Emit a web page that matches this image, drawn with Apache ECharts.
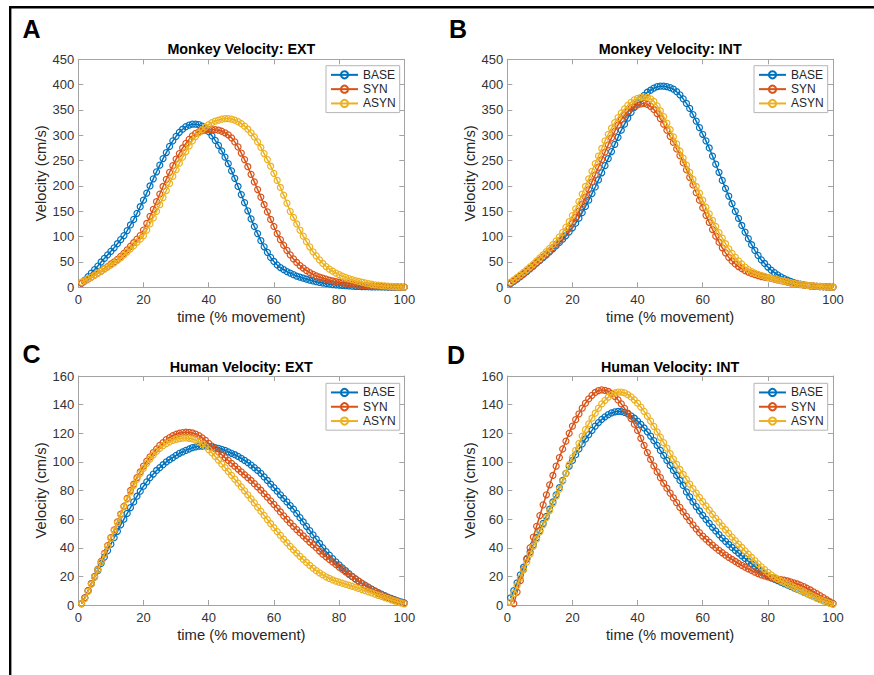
<!DOCTYPE html>
<html>
<head>
<meta charset="utf-8">
<title>Velocity profiles</title>
<script src="https://cdn.jsdelivr.net/npm/echarts@6/dist/echarts.min.js"></script>
<style>
  html, body { margin: 0; padding: 0; background: #fff; }
  #chart { width: 874px; height: 675px; }
</style>
</head>
<body>
<div id="chart"></div>
<script>
// Sample times, percent of movement
const timePct = [1,2,3,4,5,6,7,8,9,10,11,12,13,14,15,16,17,18,19,20,
  21,22,23,24,25,26,27,28,29,30,31,32,33,34,35,36,37,38,39,40,
  41,42,43,44,45,46,47,48,49,50,51,52,53,54,55,56,57,58,59,60,
  61,62,63,64,65,66,67,68,69,70,71,72,73,74,75,76,77,78,79,80,
  81,82,83,84,85,86,87,88,89,90,91,92,93,94,95,96,97,98,99,100];

const conditionNames = ['BASE', 'SYN', 'ASYN'];
const panelLetters = ['A', 'B', 'C', 'D'];
const panelTitles = ['Monkey Velocity: EXT', 'Monkey Velocity: INT', 'Human Velocity: EXT', 'Human Velocity: INT'];
const xTicks = [0, 20, 40, 60, 80, 100];
const monkeyYTicks = [0, 50, 100, 150, 200, 250, 300, 350, 400, 450];
const humanYTicks = [0, 20, 40, 60, 80, 100, 120, 140, 160];

// Monkey, extension (cm/s)
const monkeyExtBase = [8,14,21,28,35,42,50,57,64,71,
  78,86,94,102,112,123,134,146,159,172,
  186,200,214,228,241,254,266,278,289,298,
  306,312,317,320,322,322,321,318,313,307,
  299,290,280,269,257,244,230,215,199,183,
  167,151,135,120,106,92,80,69,59,51,
  44,39,35,31,28,25,22,20,18,16,
  14,12.5,11,9.5,8.5,7.5,6.5,5.5,4.8,4.2,
  3.6,3.1,2.7,2.3,2,1.7,1.5,1.3,1.1,1,
  0.9,0.8,0.7,0.6,0.5,0.4,0.3,0.3,0.2,0.2];
const monkeyExtSyn = [8,12,16,20,24,28,32,37,41,46,
  50,55,61,67,74,81,88,95,102,113,
  126,140,154,169,184,199,213,227,240,253,
  264,275,284,292,299,304,307,309,310,311,
  311,311,310,308,305,301,295,287,277,265,
  252,238,223,208,193,178,163,149,134,120,
  106,94,83,73,64,56,49,43,38,33,
  29,25.5,22.5,20,18,16,14,12.5,11,10,
  9,8,7,6,5.2,4.5,3.8,3.2,2.7,2.3,
  2,1.7,1.5,1.3,1.1,0.9,0.7,0.6,0.5,0.4];
const monkeyExtAsyn = [10,13,17,20,24,28,32,36,40,44,
  48,53,58,64,70,76,82,89,95,102,
  113,125,137,150,163,177,191,205,219,232,
  245,257,268,279,289,298,305,311,316,321,
  325,328,330,332,333,333,332,330,327,323,
  318,312,305,297,287,276,264,252,239,225,
  211,197,182,166,150,138,125,113,101,90,
  80,70,62,54,47,41,36,32,28,25,
  22,19.5,17,15,13,11.5,10,8.5,7.2,6,
  5,4.2,3.5,2.8,2.2,1.7,1.3,1,0.7,0.5];

// Monkey, internal rotation (cm/s)
const monkeyIntBase = [7,11.5,16,21,26,31,36.5,42,47.5,53,
  58.5,64,70,76,82,88.5,95,102,109.5,117.5,
  126.5,136.5,147.5,159.5,172,185,198,212,226,240,
  254,268,282,296,310,322,334,345,355,364,
  372,379,385,389,393,396,397,397,396,394,
  391,386,380,372,363,353,341,328,315,302,
  289,275,259,243,227,211,195,180,165,150,
  136,122,109,96,84,73,63,54,47,40,
  34,29,24.5,20.5,17,14,11.5,9.3,7.5,6,
  4.8,3.8,3,2.3,1.8,1.4,1.1,0.8,0.6,0.5];
const monkeyIntSyn = [8,12.5,17,22,27,32,37.5,43,48.5,54,
  60,66,72,78.5,85,92,99.5,107.5,116.5,126.5,
  138,150.5,164,178,193,208,222,237,252,267,
  281,295,308,320,331,340,347,353,357,360,
  362,363,361,357,351,343,333,322,310,298,
  286,273,260,246,232,217,202,187,172,157,
  142,128,114,101,89,78,68,59,52,46,
  41,37,33,30,27.5,25,23,21,20,19,
  17.5,16,14.5,13,11.5,10,8.8,7.6,6.5,5.5,
  4.6,3.8,3.1,2.5,2,1.6,1.2,0.9,0.7,0.5];
const monkeyIntAsyn = [10,14.5,19.5,24.5,29.5,35,40.5,46,52,58,
  64,70.5,77,84,91.5,99.5,108.5,118.5,129.5,141.5,
  155,169,184,199,214,229,244,259,274,289,
  302,314,325,335,344,352,359,365,370,373,
  375,376,375,372,367,358,348,337,324,311,
  297,283,269,255,241,227,213,199,186,172,
  158,145,132,120,108,97,86,76,67,59,
  52,46,40,35,31,28,25.5,23.5,21.5,19.5,
  18,16.5,15,13.5,12,10.5,9,7.8,6.7,5.7,
  4.8,4,3.3,2.7,2.2,1.7,1.3,1,0.7,0.5];

// Human, extension (cm/s)
const humanExtBase = [1,5,10,15,19.5,24,29,33.5,38,42.5,
  47,51.5,56,60,64,68,72,76,79.5,83,
  86,89,91.5,94,96,98,100,101.5,103,104.5,
  106,107,108,109,110,110.5,111,111,111,110.8,
  110.5,110,109.5,108.8,108,107,106,105,103.8,102.5,
  101,99.5,97.8,96,94,92,89.5,87,84.5,82,
  79.5,77,74.5,72,69.5,67,64,61,58,55,
  52,49,46,43,40,37.3,34.8,32.4,30.1,28,
  26,24,22,20,18.3,16.7,15.2,13.8,12.4,11.1,
  9.9,8.7,7.6,6.5,5.5,4.6,3.7,2.9,2.2,1.5];
const humanExtSyn = [1,5,10,15,20,25,30.5,36,41.5,47,
  52.5,58,63.5,69,74.5,80,84.5,89,93,97,
  100.5,103.5,106.5,109,111.5,113.5,115.5,117,118.3,119.3,
  120,120.5,120.7,120.6,120.2,119.4,118.3,116.8,115,113,
  111,109,107,105,103,101,99,97,95,93,
  91,89,87,84.8,82.5,80.2,77.8,75.3,72.8,70.3,
  67.7,65,62.3,59.8,57.3,55,52.7,50.5,48.3,46.2,
  44,42,40,37.7,35.5,33.7,31.9,30.1,28.3,26.5,
  24.8,23.1,21.4,19.8,18.2,16.7,15.1,13.6,12.2,10.8,
  9.5,8.3,7.2,6.2,5.2,4.3,3.4,2.6,1.9,1.2];
const humanExtAsyn = [1,4.5,9.5,14.5,19.5,24.5,30,35.5,41,46.5,
  52,57.5,63,68.5,74,79,83.5,88,92,95.5,
  99,102,104.8,107.3,109.5,111.3,112.8,114,115,115.8,
  116.3,116.6,116.7,116.5,116,115.2,114,112.5,110.7,108.6,
  106.3,103.8,101.2,98.6,96,93.3,90.6,87.9,85.2,82.5,
  79.8,77,74.2,71.3,68.4,65.5,62.6,59.7,56.8,54,
  51.3,48.6,46,43.5,41,38.6,36.3,34,31.8,29.7,
  27.7,25.8,24,22.4,21,19.7,18.6,17.6,16.7,15.9,
  15.2,14.5,13.8,13.1,12.4,11.6,10.8,10,9.2,8.4,
  7.6,6.8,6,5.2,4.4,3.6,2.8,2.1,1.4,0.8];

// Human, internal rotation (cm/s); SYN has no sample at 1%
const humanIntBase = [5,10,15.5,21,26.5,32,37,42,47,52,
  57,62,67,72,77,82,87,92,97,101,
  105,109,112.5,116,119,122,125,127.5,129.7,131.5,
  133,134.2,135,135.3,135.2,134.6,133.6,132.2,130.5,128.5,
  126.2,123.7,121,118,114.8,111.5,108,104.5,101,97.5,
  94,90.5,87,83.5,79,75.5,72,68.8,65.7,62.7,
  59.8,57,54.3,51.7,49.2,46.8,44.5,42.3,40.2,38.2,
  36.3,34.4,32.5,30.6,28.8,27,25.3,23.6,22,20.5,
  19.2,18,17,16,15,14,13,12,11,10,
  9,8,7,6,5,4,3.2,2.4,1.7,1];
const humanIntSyn = [null,1,9,17,25,32.5,40,47.5,55,62.5,
  70,77,84,90.5,97,103,109,114.5,120,125,
  129.5,133.5,137.5,141,144,146.5,148.5,149.8,150.3,150,
  149.2,147.8,145.8,143.3,140.5,137.4,134,130.3,126.3,122,
  116.5,111.5,106.5,101.7,97.2,93,89,85.2,81.6,78.2,
  74.8,71.5,68.2,65,62,59,56,53.2,50.6,48.2,
  46,43.9,41.9,40,38.2,36.5,34.9,33.3,31.8,30.4,
  29,27.7,26.4,25.2,24.1,23,22,21.1,20.3,19.6,
  19,18.5,18.1,17.7,17.3,16.8,16.2,15.5,14.7,13.8,
  12.8,11.7,10.5,9.2,7.9,6.5,5.1,3.7,2.3,1];
const humanIntAsyn = [2,8,13.5,19,24.5,30,35.5,41,46,51,
  56,61,66,71,76,81,86.5,92,98,103,
  108,113,118,122.5,126.5,130.5,134,137.5,140.5,143,
  145.2,147,148.2,148.8,148.8,148.2,147,145.4,143.4,141,
  138.3,135.3,132,128.5,124.8,121,117.2,113.4,109.6,105.8,
  102,98.3,94.7,91.2,87.8,84.5,81.3,78.2,75.2,72.2,
  69.2,66.3,63.4,60.6,57.9,55.2,52.6,50,47.5,45,
  42.6,40.2,37.8,35.5,33.2,31,28.8,26.7,24.7,22.8,
  21,19.4,18,16.8,15.7,14.6,13.5,12.4,11.3,10.2,
  9.1,8,6.9,5.8,4.8,3.8,2.9,2,1.2,0.5];

const panelSeries = [
  [monkeyExtBase, monkeyExtSyn, monkeyExtAsyn],
  [monkeyIntBase, monkeyIntSyn, monkeyIntAsyn],
  [humanExtBase, humanExtSyn, humanExtAsyn],
  [humanIntBase, humanIntSyn, humanIntAsyn]
];
const panelYTicks = [monkeyYTicks, monkeyYTicks, humanYTicks, humanYTicks];

// MATLAB default line colours
const lineColors = ['#0072BD', '#D95319', '#EDB120'];
const FONT = "'Liberation Sans', Arial, Helvetica, sans-serif";
const AXIS_GRAY = '#a3a3a3';
const TEXT_DARK = '#262626';

// Plot boxes of the four panels (pixels)
const boxes = [
  { left: 78.3, top: 59.3, width: 326, height: 228 },
  { left: 507.3, top: 59.3, width: 325.7, height: 228 },
  { left: 78.3, top: 376, width: 326, height: 229 },
  { left: 507.3, top: 376, width: 325.7, height: 229 }
];
const legendPos = [
  { left: 326, top: 65.7 },
  { left: 754, top: 65.7 },
  { left: 326, top: 383.3 },
  { left: 754, top: 383.3 }
];
const titleY = [49.4, 49.4, 366.8, 366.8];
const letterPos = [[31.5, 29.3], [458, 29.3], [31.5, 353.5], [456, 354.5]];

const grids = [], xAxes = [], yAxes = [], series = [], legends = [], graphics = [];

function tickStep(ticks) { return ticks[1] - ticks[0]; }

boxes.forEach((b, p) => {
  grids.push({ left: b.left, top: b.top, width: b.width, height: b.height, containLabel: false });
  const yt = panelYTicks[p];
  const common = {
    gridIndex: p, type: 'value',
    axisLine: { show: true, onZero: false, lineStyle: { color: AXIS_GRAY, width: 1 } },
    axisTick: { show: true, inside: true, length: 5, lineStyle: { color: AXIS_GRAY, width: 1 } },
    splitLine: { show: false }
  };
  // bottom / top x axes
  xAxes.push(Object.assign({}, common, {
    position: 'bottom', min: xTicks[0], max: xTicks[xTicks.length - 1], interval: tickStep(xTicks),
    name: 'time (% movement)', nameLocation: 'middle', nameGap: 22,
    nameTextStyle: { fontSize: 14.8, color: TEXT_DARK, fontFamily: FONT },
    axisLabel: { fontSize: 13, color: '#333', margin: 6, fontFamily: FONT }
  }));
  xAxes.push(Object.assign({}, common, {
    position: 'top', min: xTicks[0], max: xTicks[xTicks.length - 1], interval: tickStep(xTicks),
    axisLabel: { show: false }
  }));
  // left / right y axes
  yAxes.push(Object.assign({}, common, {
    position: 'left', min: yt[0], max: yt[yt.length - 1], interval: tickStep(yt),
    name: 'Velocity (cm/s)', nameLocation: 'middle', nameGap: 29,
    nameTextStyle: { fontSize: 14.8, color: TEXT_DARK, fontFamily: FONT },
    axisLabel: { fontSize: 13, color: '#333', margin: 4, fontFamily: FONT }
  }));
  yAxes.push(Object.assign({}, common, {
    position: 'right', min: yt[0], max: yt[yt.length - 1], interval: tickStep(yt),
    axisLabel: { show: false }
  }));

  panelSeries[p].forEach((vals, k) => {
    const pts = [];
    vals.forEach((v, i) => { if (v !== null) pts.push([timePct[i], v]); });
    series.push({
      name: conditionNames[k], type: 'line',
      xAxisIndex: 2 * p, yAxisIndex: 2 * p,
      data: pts,
      symbol: 'circle', symbolSize: 6, showSymbol: true,
      lineStyle: { color: lineColors[k], width: 1.5 },
      itemStyle: { color: 'rgba(255,255,255,0)', borderColor: lineColors[k], borderWidth: 1.2 },
      emphasis: { disabled: true },
      z: 2 + k
    });
  });

  legends.push({
    left: legendPos[p].left, top: legendPos[p].top,
    orient: 'vertical', data: conditionNames.slice(),
    itemWidth: 27, itemHeight: 9, itemGap: 0,
    padding: [2, 4, 2, 4],
    borderColor: '#b5b5b5', borderWidth: 1, backgroundColor: '#fff',
    selectedMode: false,
    textStyle: { fontSize: 12, color: TEXT_DARK, fontFamily: FONT, lineHeight: 14.3 }
  });

  graphics.push({
    type: 'text', x: b.left + b.width / 2, y: titleY[p], z: 10,
    style: { text: panelTitles[p], fill: '#000', fontSize: 14.3, fontWeight: 'bold', fontFamily: FONT,
             align: 'center', verticalAlign: 'middle' }
  });
  graphics.push({
    type: 'text', x: letterPos[p][0], y: letterPos[p][1], z: 10,
    style: { text: panelLetters[p], fill: '#000', fontSize: 25, fontWeight: 'bold', fontFamily: FONT,
             align: 'center', verticalAlign: 'middle' }
  });
});

// figure frame
graphics.push({
  type: 'polyline', z: 10,
  shape: { points: [[10.2, 675], [10.2, 7.3], [874, 7.3]] },
  style: { stroke: '#000', lineWidth: 2.4, fill: null }
});

const chart = echarts.init(document.getElementById('chart'), null, { renderer: 'svg' });
chart.setOption({
  animation: false,
  backgroundColor: '#fff',
  textStyle: { fontFamily: FONT },
  grid: grids,
  xAxis: xAxes,
  yAxis: yAxes,
  legend: legends,
  series: series,
  graphic: graphics
});
</script>
</body>
</html>
